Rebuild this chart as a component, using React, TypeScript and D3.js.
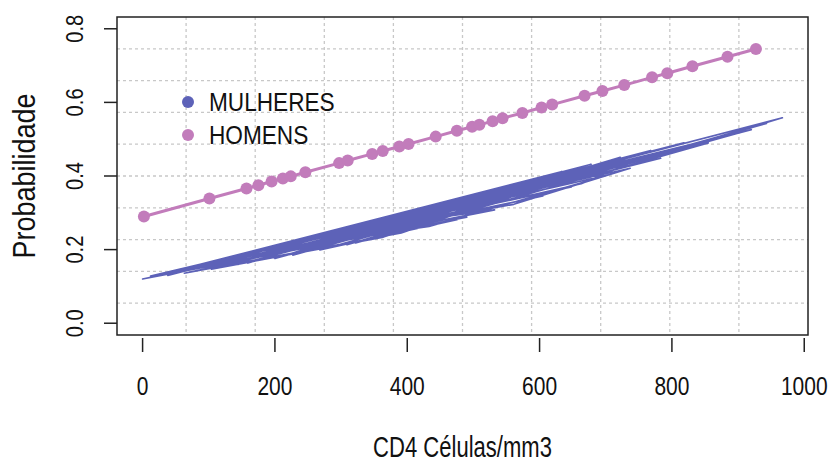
import * as d3 from 'd3';

// HOMENS (pink): CD4 cells vs probability
const menCd4 = [
  2, 101, 157, 175, 195, 212, 224, 246, 297, 310, 347, 363, 388, 402, 443, 475, 498, 509, 529, 544, 574,
  603, 619, 668, 695, 728, 770, 793, 831, 884, 927,
];
const menProb = [
  0.29, 0.339, 0.366, 0.375, 0.385, 0.393, 0.399, 0.41, 0.435, 0.442, 0.46, 0.468, 0.48, 0.487, 0.507,
  0.523, 0.534, 0.539, 0.549, 0.557, 0.571, 0.586, 0.594, 0.618, 0.631, 0.647, 0.668, 0.679, 0.698,
  0.724, 0.745,
];

// MULHERES (blue): fitted values on a few curves
const womenCd4 = [
  0, 12, 25, 38, 50, 63, 77, 90, 104, 117, 130, 145, 158, 171, 186, 200, 213, 227, 240, 254, 268, 281,
  295, 309, 322, 336, 350, 364, 378, 391, 405, 419, 433, 447, 461, 475, 490, 504, 518, 532, 547, 561,
  575, 590, 605, 619, 634, 648, 663, 678, 693, 708, 722, 737, 752, 768, 783, 800, 818, 836, 855, 875,
  897, 920, 943, 967,
];
const womenProb = [
  0.12, 0.128, 0.13, 0.13, 0.143, 0.136, 0.147, 0.159, 0.147, 0.161, 0.176, 0.16, 0.163, 0.193, 0.187,
  0.176, 0.211, 0.185, 0.208, 0.229, 0.199, 0.224, 0.248, 0.213, 0.218, 0.267, 0.254, 0.234, 0.287,
  0.245, 0.277, 0.306, 0.263, 0.297, 0.327, 0.281, 0.288, 0.348, 0.331, 0.308, 0.37, 0.323, 0.36, 0.391,
  0.346, 0.382, 0.412, 0.37, 0.379, 0.432, 0.419, 0.405, 0.451, 0.421, 0.447, 0.469, 0.448, 0.47, 0.49,
  0.48, 0.49, 0.506, 0.515, 0.526, 0.543, 0.558,
];
// the rows are not sorted by CD4 in the data, so the line runs back and forth
const womenRowOrder = [
  12, 40, 3, 55, 27, 8, 61, 33, 19, 47, 0, 36, 22, 58, 14, 44, 5, 29, 52, 17, 64, 38, 10, 49, 25, 2, 57,
  31, 43, 15, 62, 20, 35, 7, 53, 41, 26, 1, 59, 45, 13, 34, 50, 23, 65, 9, 39, 30, 56, 18, 4, 46, 28, 63,
  11, 42, 24, 60, 16, 37, 6, 51, 32, 21, 48, 54,
];

const xTicks = [0, 200, 400, 600, 800, 1000];
const yTicks = [0, 0.2, 0.4, 0.6, 0.8];
const legendLabels = ['MULHERES', 'HOMENS'];

const width = 833;
const height = 464;
const box = { left: 117, right: 808, top: 17, bottom: 335 };
const blue = '#5d62b8';
const pink = '#c27cbb';
const font = '"Liberation Sans", Arial, sans-serif';

const App = () => {
  // R style: data range widened by 4% on each side
  const xMax = d3.max(womenCd4) ?? 0;
  const xPad = xMax * 0.04;
  const xScale = d3.scaleLinear().domain([-xPad, xMax + xPad]).range([box.left, box.right]);
  const yScale = d3.scaleLinear().domain([-0.032, 0.832]).range([box.bottom, box.top]);

  const xd = xScale.domain();
  const yd = yScale.domain();
  const gridX = d3.range(1, 10).map((k) => xd[0] + ((xd[1] - xd[0]) * k) / 10);
  const gridY = d3.range(1, 10).map((k) => yd[0] + ((yd[1] - yd[0]) * k) / 10);

  const line = d3.line();
  const menPath = line(menCd4.map((x, i) => [xScale(x), yScale(menProb[i])]));
  const womenPath = line(womenRowOrder.map((r) => [xScale(womenCd4[r]), yScale(womenProb[r])]));

  return (
    <svg width={width} height={height} style={{ position: 'absolute', left: 0, top: 0, background: '#fff' }}>
      <g stroke="#c8c8c8" strokeWidth={1.3} strokeDasharray="3,3">
        {gridX.map((v, i) => (
          <line key={'gx' + i} x1={xScale(v)} x2={xScale(v)} y1={box.top} y2={box.bottom} />
        ))}
        {gridY.map((v, i) => (
          <line key={'gy' + i} x1={box.left} x2={box.right} y1={yScale(v)} y2={yScale(v)} />
        ))}
      </g>

      <path d={womenPath ?? ''} fill="none" stroke={blue} strokeWidth={1.6} strokeLinejoin="round" />

      <path d={menPath ?? ''} fill="none" stroke={pink} strokeWidth={3} />
      {menCd4.map((x, i) => (
        <circle key={'m' + i} cx={xScale(x)} cy={yScale(menProb[i])} r={6} fill={pink} />
      ))}

      <rect
        x={box.left}
        y={box.top}
        width={box.right - box.left}
        height={box.bottom - box.top}
        fill="none"
        stroke="#222"
        strokeWidth={1.5}
      />

      {xTicks.map((t) => (
        <g key={'xt' + t}>
          <line x1={xScale(t)} x2={xScale(t)} y1={338} y2={352} stroke="#222" strokeWidth={1.5} />
          <text
            transform={`translate(${xScale(t)},395) scale(0.84,1)`}
            textAnchor="middle"
            fontFamily={font}
            fontSize={25}
            fill="#111"
          >
            {t}
          </text>
        </g>
      ))}

      {yTicks.map((t) => (
        <g key={'yt' + t}>
          <line x1={104} x2={box.left} y1={yScale(t)} y2={yScale(t)} stroke="#222" strokeWidth={1.5} />
          <text
            transform={`translate(83,${yScale(t)}) rotate(-90) scale(0.84,1)`}
            textAnchor="middle"
            fontFamily={font}
            fontSize={24}
            fill="#111"
          >
            {t.toFixed(1)}
          </text>
        </g>
      ))}

      <text
        transform={`translate(${(box.left + box.right) / 2},457) scale(0.76,1)`}
        textAnchor="middle"
        fontFamily={font}
        fontSize={29}
        fill="#111"
      >
        CD4 Células/mm3
      </text>
      <text
        transform={`translate(35,${(box.top + box.bottom) / 2}) rotate(-90) scale(0.87,1)`}
        textAnchor="middle"
        fontFamily={font}
        fontSize={31}
        fill="#111"
      >
        Probabilidade
      </text>

      {legendLabels.map((lab, i) => (
        <g key={lab}>
          <circle cx={188} cy={102 + i * 33} r={6} fill={i === 0 ? blue : pink} />
          <text
            transform={`translate(209,${111 + i * 33}) scale(0.87,1)`}
            fontFamily={font}
            fontSize={26}
            fill="#111"
          >
            {lab}
          </text>
        </g>
      ))}
    </svg>
  );
};

export default App;
